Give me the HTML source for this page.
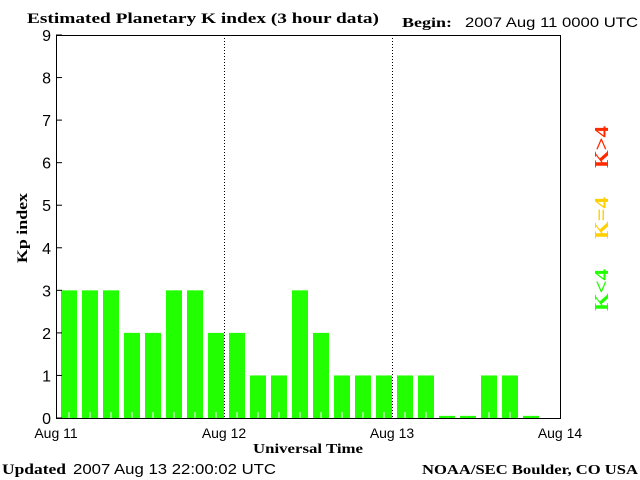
<!DOCTYPE html>
<html><head><meta charset="utf-8"><style>
body{margin:0;background:#fff;}
svg{display:block;}
.serif{font-family:"Liberation Serif",serif;font-weight:bold;}
.sans{font-family:"Liberation Sans",sans-serif;}
</style></head><body>
<svg id="chart" width="640" height="480" viewBox="0 0 640 480">
<text class="serif" x="27" y="23" font-size="15" textLength="352" lengthAdjust="spacingAndGlyphs">Estimated Planetary K index (3 hour data)</text>
<text class="serif" x="402" y="27" font-size="14" textLength="50" lengthAdjust="spacingAndGlyphs">Begin:</text>
<text class="sans" x="465" y="27" font-size="14" textLength="173" lengthAdjust="spacingAndGlyphs">2007 Aug 11 0000 UTC</text>
<text class="serif" x="27" y="228" font-size="15" transform="rotate(-90 27 228)" text-anchor="middle" textLength="70" lengthAdjust="spacingAndGlyphs">Kp index</text>
<text class="serif" x="253" y="453" font-size="14" textLength="110" lengthAdjust="spacingAndGlyphs">Universal Time</text>
<text class="serif" x="2" y="474" font-size="15" textLength="64" lengthAdjust="spacingAndGlyphs">Updated</text>
<text class="sans" x="73" y="474" font-size="15" textLength="203" lengthAdjust="spacingAndGlyphs">2007 Aug 13 22:00:02 UTC</text>
<text class="serif" x="422" y="474" font-size="14" textLength="216" lengthAdjust="spacingAndGlyphs">NOAA/SEC Boulder, CO USA</text>
<g id="plot"></g>
<text class="serif" x="608" y="290" font-size="20" fill="#22ff00" transform="rotate(-90 608 290)" text-anchor="middle" textLength="42" lengthAdjust="spacingAndGlyphs">K&lt;4</text>
<text class="serif" x="608" y="218" font-size="20" fill="#ffd000" transform="rotate(-90 608 218)" text-anchor="middle" textLength="42" lengthAdjust="spacingAndGlyphs">K=4</text>
<text class="serif" x="608" y="147" font-size="20" fill="#ff2a00" transform="rotate(-90 608 147)" text-anchor="middle" textLength="42" lengthAdjust="spacingAndGlyphs">K&gt;4</text>
</svg>
<script>
const kpValues=[3,3,3,2,2,3,3,2,2,1,1,3,2,1,1,1,1,1,0.05,0.05,1,1,0.05];
const yTicks=[0,1,2,3,4,5,6,7,8,9];
const dayLabels=["Aug 11","Aug 12","Aug 13","Aug 14"];
const NS="http://www.w3.org/2000/svg";
const L=56,R=560,T=35,B=418;
const daysSpan=3;
function xScale(h){return L+(R-L)*h/(daysSpan*24);}
function yScale(v){return B-(B-T)*v/9;}
const g=document.getElementById('plot');
function mk(tag,attrs){const e=document.createElementNS(NS,tag);for(const k in attrs)e.setAttribute(k,attrs[k]);g.appendChild(e);return e;}
kpValues.forEach((v,i)=>{
  const x0=xScale(i*3),x1=xScale(i*3+3);
  const c=v>4?'#ff2a00':(v==4?'#ffd000':'#22ff00');
  const r=mk('rect',{x:x0+5,y:yScale(v),width:(x1-x0)-5,height:B-yScale(v),fill:c});
  
  
  const cx=(x0+5+x1)/2;
  if(v>=0.2){const t=mk('line',{x1:cx,x2:cx,y1:B-6,y2:B,stroke:'#fff','stroke-width':1});
  
  }
});
for(let d=1;d<daysSpan;d++){
  const x=Math.round(xScale(d*24))+0.5;
  const l=mk('line',{x1:x,x2:x,y1:T,y2:B,stroke:'#000','stroke-dasharray':'1,2'});
  
  
}
const frame=mk('rect',{x:L+0.5,y:T+0.5,width:R-L,height:B-T,fill:'none',stroke:'#000','stroke-width':1});


yTicks.forEach(v=>{
  const y=yScale(v);
  const tk=mk('line',{x1:L,x2:L+6,y1:y,y2:y,stroke:'#000'});
  
  
  const t=mk('text',{x:L-5,y:y+6,'text-anchor':'end','font-size':16,'font-family':'Liberation Sans, sans-serif'});
  t.textContent=v;
  
  
});
dayLabels.forEach((s,i)=>{
  const t=mk('text',{x:xScale(i*24),y:438,'text-anchor':'middle','font-size':14,'font-family':'Liberation Sans, sans-serif'});
  t.textContent=s;
  
  
});
</script>
</body></html>
